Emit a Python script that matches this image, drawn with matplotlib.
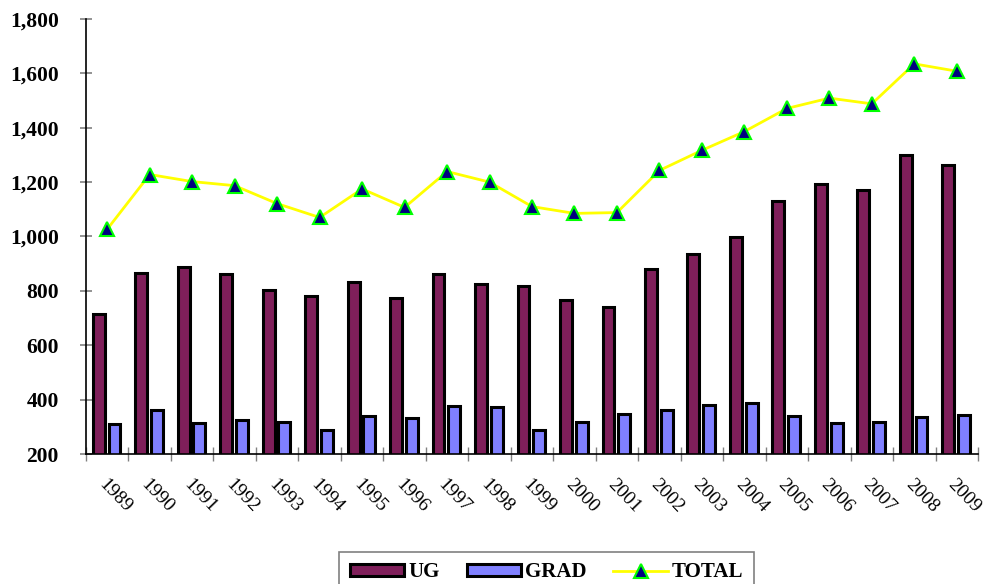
import matplotlib
matplotlib.use('Agg')

import matplotlib.pyplot as plt
import numpy as np

years = [str(y) for y in range(1989, 2010)]
ug = [715, 866, 888, 862, 803, 781, 833, 774, 862, 825, 818, 766, 741, 880, 936, 998, 1130, 1193, 1171, 1300, 1263]
grad = [310, 362, 314, 325, 318, 288, 340, 332, 377, 373, 290, 318, 347, 362, 380, 388, 340, 314, 318, 336, 343]
total = [1027, 1228, 1202, 1187, 1121, 1070, 1175, 1107, 1239, 1200, 1110, 1085, 1088, 1243, 1317, 1386, 1471, 1509, 1488, 1635, 1608]

plt.rcParams['font.family'] = ['Liberation Serif', 'DejaVu Serif']

fig = plt.figure(figsize=(9.83, 5.84), dpi=100)
ax = fig.add_axes([86/983, 130/584, 892/983, 435/584])

x = np.arange(len(years))
w = 0.28
b1 = ax.bar(x - 0.2, ug, w, color='#7f1f5a', edgecolor='black', linewidth=2.2, label='UG', zorder=2)
b2 = ax.bar(x + 0.17, grad, w, color='#8080ff', edgecolor='black', linewidth=2.2, label='GRAD', zorder=2)
l1, = ax.plot(x, total, color='#ffff00', linewidth=2, marker='^', markersize=10,
              markerfacecolor='#000080', markeredgecolor='#00ff00', markeredgewidth=1.5,
              label='TOTAL', zorder=3)

ax.set_xlim(-0.5, len(years) - 0.5)
ax.set_ylim(200, 1800)
ax.set_yticks(range(200, 1801, 200))
ax.set_yticklabels([f'{v:,}' for v in range(200, 1801, 200)], fontsize=15.5, fontweight='bold')
ax.tick_params(axis='y', direction='inout', length=9, color='#808080', width=1.2, pad=15)

ax.set_xticks(np.arange(len(years) + 1) - 0.5)
ax.set_xticklabels([])
ax.tick_params(axis='x', which='major', direction='inout', length=10, color='#808080', width=1)
ax.set_xticks(x, minor=True)
ax.set_xticklabels(years, minor=True, fontsize=14, rotation=-46,
                   ha='left', va='top', rotation_mode='anchor')
ax.tick_params(axis='x', which='minor', length=0, pad=16)

for s in ['top', 'right']:
    ax.spines[s].set_visible(False)
ax.spines['left'].set_linewidth(1.2)
ax.spines['bottom'].set_linewidth(1.2)

leg = fig.legend(handles=[b1, b2, l1], loc='upper center', bbox_to_anchor=(0.556, 32/584), ncol=3,
                 prop={'weight': 'bold', 'size': 15}, frameon=True, fancybox=False,
                 edgecolor='#606060', handlelength=2.6, handleheight=0.55, columnspacing=1.3,
                 borderpad=0.5, handletextpad=0.2, borderaxespad=0)
leg.get_frame().set_linewidth(1.2)

fig.savefig('out.png', dpi=100)
